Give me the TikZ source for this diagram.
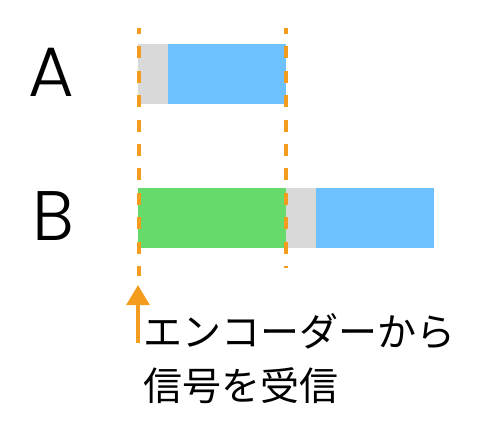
\documentclass[tikz,border=0pt]{standalone}
\usepackage{fontspec}
\usetikzlibrary{arrows.meta}
\newfontfamily\jpfont{Noto Sans CJK JP}
\newfontfamily\lanefont{Poppins Light}
\definecolor{barGray}{HTML}{D9D9D9}
\definecolor{barBlue}{HTML}{6EC1FF}
\definecolor{barGreen}{HTML}{66DA6A}
\definecolor{markOrange}{HTML}{F39C1E}
\tikzset{
	lane label/.style={font=\lanefont\fontsize{70}{70}\selectfont, inner sep=0pt},
	marker/.style={draw=markOrange, line width=4pt, dash pattern=on 12pt off 12.4pt, dash phase=6pt},
	note/.style={font=\jpfont\fontsize{39}{54}\selectfont, inner sep=0pt, anchor=base west},
}
\begin{document}
\begin{tikzpicture}[x=1pt, y=-1pt]
		\useasboundingbox (0, 0) rectangle (498, 432);
		\coordinate (L1) at (139, 28);
		\coordinate (L2) at (139, 276);
		\coordinate (R1) at (286, 28);
		\coordinate (R2) at (286, 268);
		\coordinate (S) at (138, 343);	% Foot of the arrow
		\coordinate (T) at (138, 285);	% Tip of the arrow
		
		% Row A
		\fill[barGray] (138, 44) rectangle (168, 104);
		\fill[barBlue] (168, 44) rectangle (286, 104);
		% Row B
		\fill[barGreen] (138, 188) rectangle (286, 248);
		\fill[barGray] (286, 188) rectangle (316, 248);
		\fill[barBlue] (316, 188) rectangle (434, 248);
		
		\draw[marker] (L1) -- (L2);
		\draw[marker] (R1) -- (R2);
		\draw[markOrange, line width=4pt, -{Triangle[length=20pt, width=22.6pt]}] (S) -- (T);
		
		\node[lane label] (a) at (51.5, 72.5) {A};
		\node[lane label] (b) at (53, 216) {B};
		\node[note] (enc) at (143, 346) {エンコーダーから};
		\node[note] (recv) at ([yshift=-54pt]enc.base west) {信号を受信};
	\end{tikzpicture}
\end{document}
